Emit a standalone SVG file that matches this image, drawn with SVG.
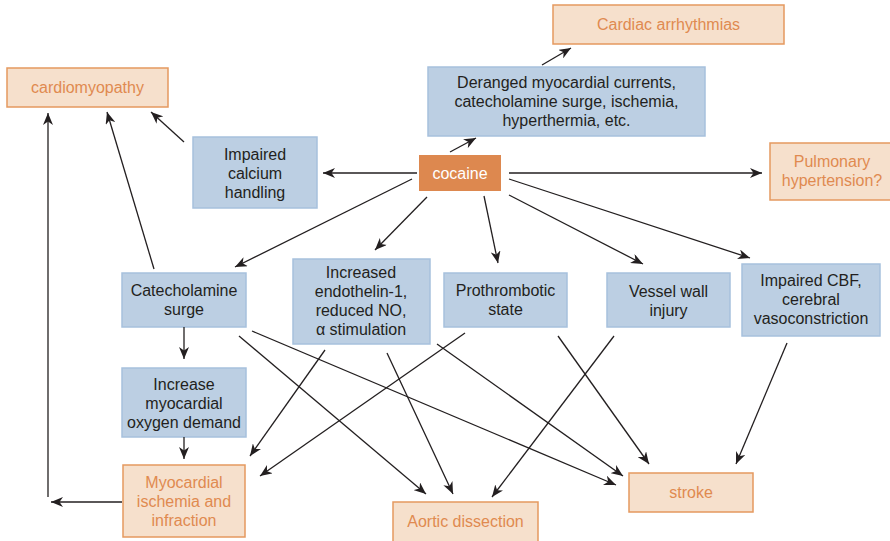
<svg xmlns="http://www.w3.org/2000/svg" width="890" height="541" viewBox="0 0 890 541">
<defs>
<style>
.b{fill:#bccfe3;stroke:#a7c1dd;stroke-width:1.5}
.o{fill:#f6e0cc;stroke:#e5995f;stroke-width:1.5}
.c{fill:#dd884f}
text{font-family:"Liberation Sans",Arial,sans-serif;font-size:16px;text-anchor:middle}
.tb{fill:#231f20}
.to{fill:#e08a50}
.tw{fill:#ffffff}
.e line,.e polyline{stroke:#231f20;stroke-width:1.3;fill:none;marker-end:url(#ah)}
</style>
<marker id="ah" viewBox="0 0 12 10" refX="12" refY="5" markerWidth="12" markerHeight="10" markerUnits="userSpaceOnUse" orient="auto">
<path d="M0,0 L12,5 L0,10 L3.5,5 z" fill="#231f20"/>
</marker>
</defs>
<rect width="890" height="541" fill="#ffffff"/>
<g id="cardiomyopathy"><rect class="o" x="7" y="68" width="161" height="39"/><text class="to" x="87.5" y="93">cardiomyopathy</text></g>
<g id="arrhythmias"><rect class="o" x="553" y="5" width="231" height="39"/><text class="to" x="668.5" y="30">Cardiac arrhythmias</text></g>
<g id="deranged"><rect class="b" x="428" y="67" width="277" height="69"/><text class="tb" x="566.5" y="88">Deranged myocardial currents,</text><text class="tb" x="566.5" y="107">catecholamine surge, ischemia,</text><text class="tb" x="566.5" y="126">hyperthermia, etc.</text></g>
<g id="cocaine"><rect class="c" x="419" y="155" width="82" height="36"/><text class="tw" x="460" y="179">cocaine</text></g>
<g id="pulmonary"><rect class="o" x="770" y="143" width="125" height="57"/><text class="to" x="832" y="167">Pulmonary</text><text class="to" x="832" y="186">hypertension?</text></g>
<g id="calcium"><rect class="b" x="193" y="137" width="124" height="71"/><text class="tb" x="255" y="160">Impaired</text><text class="tb" x="255" y="179">calcium</text><text class="tb" x="255" y="198">handling</text></g>
<g id="catecholamine"><rect class="b" x="122" y="273" width="124" height="54"/><text class="tb" x="184" y="296">Catecholamine</text><text class="tb" x="184" y="315">surge</text></g>
<g id="endothelin"><rect class="b" x="293" y="259" width="137" height="85"/><text class="tb" x="361" y="278">Increased</text><text class="tb" x="361" y="297">endothelin-1,</text><text class="tb" x="361" y="316">reduced NO,</text><text class="tb" x="361" y="335">α stimulation</text></g>
<g id="prothrombotic"><rect class="b" x="444" y="273" width="123" height="54"/><text class="tb" x="505.5" y="296">Prothrombotic</text><text class="tb" x="505.5" y="315">state</text></g>
<g id="vessel"><rect class="b" x="607" y="273" width="123" height="54"/><text class="tb" x="668.5" y="297">Vessel wall</text><text class="tb" x="668.5" y="316">injury</text></g>
<g id="cbf"><rect class="b" x="742" y="264" width="138" height="72"/><text class="tb" x="811" y="286">Impaired CBF,</text><text class="tb" x="811" y="305">cerebral</text><text class="tb" x="811" y="324">vasoconstriction</text></g>
<g id="oxygen"><rect class="b" x="122" y="368" width="124" height="69"/><text class="tb" x="184" y="390">Increase</text><text class="tb" x="184" y="409">myocardial</text><text class="tb" x="184" y="428">oxygen demand</text></g>
<g id="ischemia"><rect class="o" x="123" y="465" width="122" height="72"/><text class="to" x="184" y="488">Myocardial</text><text class="to" x="184" y="507">ischemia and</text><text class="to" x="184" y="526">infraction</text></g>
<g id="aortic"><rect class="o" x="393" y="502" width="145" height="45"/><text class="to" x="465.5" y="527">Aortic dissection</text></g>
<g id="stroke"><rect class="o" x="629" y="473" width="124" height="39"/><text class="to" x="691" y="498">stroke</text></g>
<g id="connectors" class="e">
<line x1="450" y1="152" x2="476" y2="138"/>
<line x1="542" y1="65" x2="571" y2="48"/>
<line x1="509" y1="173" x2="762" y2="173"/>
<line x1="417" y1="173" x2="323" y2="173"/>
<line x1="184" y1="142" x2="151" y2="112"/>
<line x1="412" y1="179" x2="235" y2="267"/>
<line x1="427" y1="197" x2="375" y2="250"/>
<line x1="484" y1="196" x2="498" y2="263"/>
<line x1="509" y1="195" x2="643" y2="264"/>
<line x1="509" y1="179" x2="750" y2="258"/>
<line x1="154" y1="269" x2="107" y2="112"/>
<line x1="122" y1="502" x2="51" y2="502"/>
<line x1="48" y1="497" x2="48" y2="113"/>
<line x1="184" y1="327" x2="184" y2="359"/>
<line x1="184" y1="437" x2="184" y2="459"/>
<line x1="239" y1="336" x2="426" y2="494"/>
<line x1="252" y1="331" x2="616" y2="485"/>
<line x1="325" y1="350" x2="250" y2="456"/>
<line x1="387" y1="353" x2="453" y2="494"/>
<line x1="437" y1="344" x2="623" y2="476"/>
<line x1="465" y1="333" x2="260" y2="476"/>
<line x1="558" y1="336" x2="649" y2="464"/>
<line x1="614" y1="336" x2="492" y2="497"/>
<line x1="787" y1="343" x2="736" y2="464"/>
</g>
</svg>
